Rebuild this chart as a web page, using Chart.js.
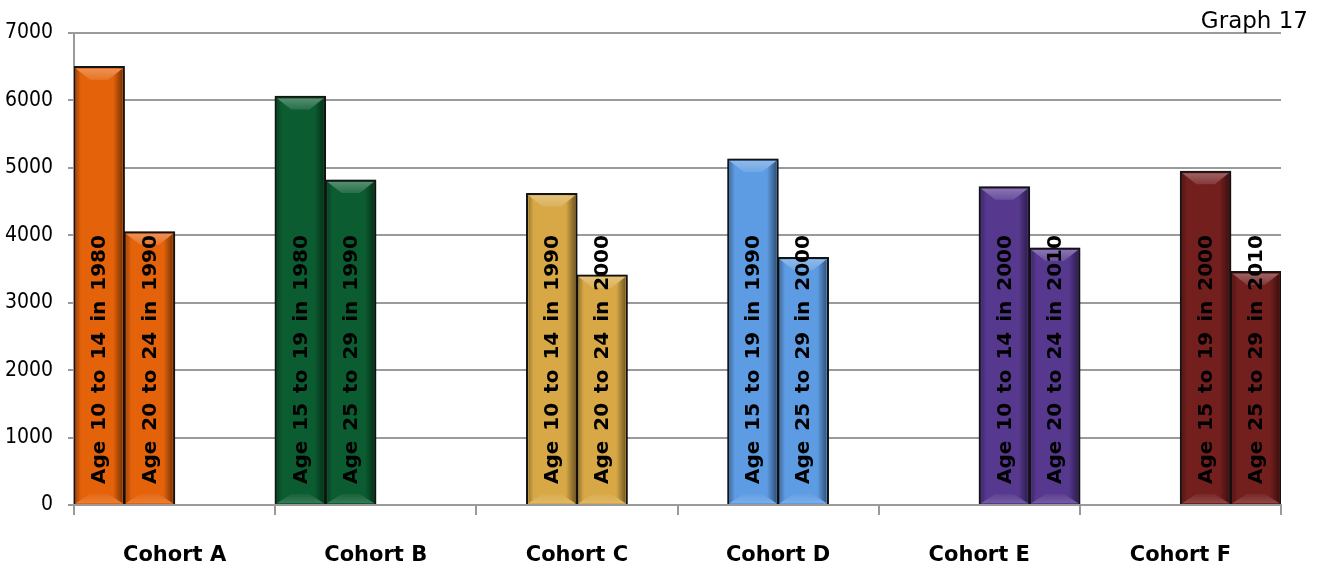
<!DOCTYPE html>
<html>
<head>
<meta charset="utf-8">
<script src="https://cdn.jsdelivr.net/npm/chart.js@4/dist/chart.umd.min.js"></script>
<style>
  html, body { margin: 0; padding: 0; background: #ffffff; }
  #wrap { width: 1322px; height: 569px; position: relative; }
</style>
</head>
<body>
<div id="wrap"><canvas id="c" width="1322" height="569"></canvas></div>
<script>
// Population of each cohort, measured ten years apart
const cohorts = ['Cohort A', 'Cohort B', 'Cohort C', 'Cohort D', 'Cohort E', 'Cohort F'];
const firstAgeValues  = [6500, 6060, 4620, 5130, 4720, 4950];
const secondAgeValues = [4050, 4820, 3410, 3670, 3810, 3460];
const firstAgeLabels = [
  'Age 10 to 14 in 1980', 'Age 15 to 19 in 1980', 'Age 10 to 14 in 1990',
  'Age 15 to 19 in 1990', 'Age 10 to 14 in 2000', 'Age 15 to 19 in 2000'
];
const secondAgeLabels = [
  'Age 20 to 24 in 1990', 'Age 25 to 29 in 1990', 'Age 20 to 24 in 2000',
  'Age 25 to 29 in 2000', 'Age 20 to 24 in 2010', 'Age 25 to 29 in 2010'
];
// Which of the four column slots in each category the pair starts at
const pairSlot = [0, 0, 1, 1, 2, 2];
const cohortColors = ['#E4620A', '#0C5C31', '#D7A845', '#5D9BE3', '#56388E', '#731F1E'];
const yTicks = [0, 1000, 2000, 3000, 4000, 5000, 6000, 7000];

const SLOTS = 4;

// Build one dataset per column slot; each cohort fills two neighbouring slots
const slotData = [];
const slotLabels = [];
for (let k = 0; k < SLOTS; k++) {
  slotData.push(cohorts.map((c, i) =>
    k === pairSlot[i] ? firstAgeValues[i] : (k === pairSlot[i] + 1 ? secondAgeValues[i] : null)));
  slotLabels.push(cohorts.map((c, i) =>
    k === pairSlot[i] ? firstAgeLabels[i] : (k === pairSlot[i] + 1 ? secondAgeLabels[i] : null)));
}

function shade(hex, amt) {
  const n = parseInt(hex.slice(1), 16);
  let r = (n >> 16) & 255, g = (n >> 8) & 255, b = n & 255;
  const mix = (c) => amt >= 0 ? Math.round(c + (255 - c) * amt) : Math.round(c * (1 + amt));
  return 'rgb(' + mix(r) + ',' + mix(g) + ',' + mix(b) + ')';
}

function drawSpacedText(ctx, text, extraGap) {
  const words = text.split(' ');
  const space = ctx.measureText(' ').width + extraGap;
  let x = 0;
  words.forEach((w) => {
    ctx.fillText(w, x, 0);
    x += ctx.measureText(w).width + space;
  });
}

// Bevelled bars, shadows, rotated in-bar labels and the corner caption
const bevelPlugin = {
  id: 'bevelBars',
  beforeDatasetsDraw(chart) {
    const ctx = chart.ctx;
    ctx.save();
    ctx.shadowColor = 'rgba(0,0,0,0.4)';
    ctx.shadowBlur = 5;
    ctx.shadowOffsetX = 1;
    ctx.shadowOffsetY = 1;
  },
  afterDatasetsDraw(chart) {
    const ctx = chart.ctx;
    ctx.restore();
    const bars = [];
    for (let di = 0; di < SLOTS; di++) {
      const meta = chart.getDatasetMeta(di);
      meta.data.forEach((el, i) => {
        if (slotData[di][i] == null) return;
        bars.push({ el, i, label: slotLabels[di][i] });
      });
    }
    bars.forEach(({ el, i }) => {
      const p = el.getProps(['x', 'y', 'base', 'width'], true);
      const col = cohortColors[i];
      const b = 2;
      const l = p.x - p.width / 2 + b, r = p.x + p.width / 2 - b;
      const t = p.y + b, bot = p.base - 1;
      ctx.save();
      let g = ctx.createLinearGradient(r - 9, 0, r, 0);
      g.addColorStop(0, 'rgba(0,0,0,0)');
      g.addColorStop(1, 'rgba(0,0,0,0.45)');
      ctx.fillStyle = g;
      ctx.fillRect(r - 9, t, 9, bot - t);
      g = ctx.createLinearGradient(l, 0, l + 5, 0);
      g.addColorStop(0, 'rgba(0,0,0,0.25)');
      g.addColorStop(1, 'rgba(0,0,0,0)');
      ctx.fillStyle = g;
      ctx.fillRect(l, t, 5, bot - t);
      // top bevel
      g = ctx.createLinearGradient(0, t, 0, t + 11);
      g.addColorStop(0, shade(col, 0.3));
      g.addColorStop(1, shade(col, 0.12));
      ctx.fillStyle = g;
      ctx.beginPath();
      ctx.moveTo(l, t);
      ctx.lineTo(r, t);
      ctx.lineTo(r - 14, t + 11);
      ctx.lineTo(l + 14, t + 11);
      ctx.closePath();
      ctx.fill();
      // bottom bevel
      g = ctx.createLinearGradient(0, bot - 9, 0, bot);
      g.addColorStop(0, shade(col, 0.04));
      g.addColorStop(1, shade(col, 0.18));
      ctx.fillStyle = g;
      ctx.beginPath();
      ctx.moveTo(l, bot);
      ctx.lineTo(r, bot);
      ctx.lineTo(r - 14, bot - 9);
      ctx.lineTo(l + 14, bot - 9);
      ctx.closePath();
      ctx.fill();
      ctx.restore();
    });
    // rotated labels inside the bars
    bars.forEach(({ el, label }) => {
      const p = el.getProps(['x', 'base'], true);
      ctx.save();
      ctx.translate(p.x + 1, p.base - 20);
      ctx.rotate(-Math.PI / 2);
      ctx.font = 'bold 20px "DejaVu Sans", sans-serif';
      ctx.fillStyle = '#000000';
      ctx.textAlign = 'left';
      ctx.textBaseline = 'middle';
      drawSpacedText(ctx, label, 3);
      ctx.restore();
    });
  },
  afterDraw(chart) {
    const ctx = chart.ctx;
    ctx.save();
    ctx.font = '23px "DejaVu Sans", sans-serif';
    ctx.fillStyle = '#000000';
    ctx.textAlign = 'right';
    ctx.textBaseline = 'alphabetic';
    ctx.fillText('Graph 17', 1308, 28);
    ctx.restore();
  }
};

const axisGray = '#9a9a9a';

new Chart(document.getElementById('c'), {
  type: 'bar',
  data: {
    labels: cohorts,
    datasets: slotData.map((d, k) => ({
      label: 'Slot ' + (k + 1),
      data: d,
      backgroundColor: cohortColors,
      borderColor: '#161616',
      borderWidth: 2,
      inflateAmount: 0.6
    }))
  },
  options: {
    responsive: false,
    animation: false,
    events: [],
    categoryPercentage: 1.0,
    barPercentage: 1.0,
    layout: { padding: { top: 33, right: 41, left: 0, bottom: 0 } },
    plugins: {
      legend: { display: false },
      tooltip: { enabled: false },
      title: { display: false }
    },
    scales: {
      x: {
        offset: true,
        grid: { display: true, drawOnChartArea: false, drawTicks: true, tickLength: 10, color: axisGray, lineWidth: 2, offset: true },
        border: { display: true, color: axisGray, width: 2 },
        ticks: {
          color: '#000000',
          padding: 28,
          font: { family: '"DejaVu Sans", sans-serif', size: 21, weight: 'bold' }
        },
        afterFit(s) { s.height = 64; }
      },
      y: {
        min: yTicks[0],
        max: yTicks[yTicks.length - 1],
        afterBuildTicks(s) { s.ticks = yTicks.map((v) => ({ value: v })); },
        grid: { color: axisGray, lineWidth: 2, tickLength: 6 },
        border: { display: true, color: axisGray, width: 2 },
        ticks: {
          color: '#000000',
          padding: 15,
          font: { family: '"DejaVu Sans Condensed", sans-serif', size: 21 },
          callback: (v) => String(v)
        },
        afterFit(s) { s.width = 74; }
      }
    }
  },
  plugins: [bevelPlugin]
});
</script>
</body>
</html>
